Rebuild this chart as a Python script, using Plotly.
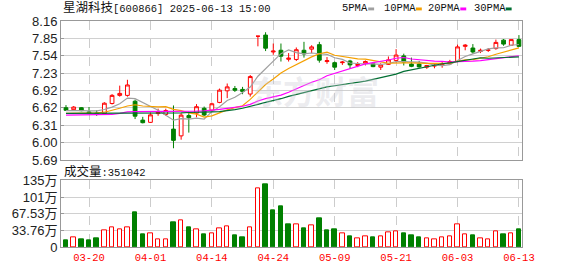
import plotly.graph_objects as go

# ---------------- data ----------------
dates = ["03-17", "03-18", "03-19", "03-20", "03-21", "03-24", "03-25", "03-26", "03-27", "03-28",
         "03-31", "04-01", "04-02", "04-03", "04-07", "04-08", "04-09", "04-10", "04-11", "04-14",
         "04-15", "04-16", "04-17", "04-18", "04-21", "04-22", "04-23", "04-24", "04-25", "04-28",
         "04-29", "04-30", "05-06", "05-07", "05-08", "05-09", "05-12", "05-13", "05-14", "05-15",
         "05-16", "05-19", "05-20", "05-21", "05-22", "05-23", "05-26", "05-27", "05-28", "05-29",
         "05-30", "06-03", "06-04", "06-05", "06-06", "06-09", "06-10", "06-11", "06-12", "06-13"]

open_ = [6.62, 6.585, 6.62, 6.545, 6.525, 6.516, 6.695, 6.839, 6.839, 6.735,
         6.40, 6.36, 6.516, 6.50, 6.24, 6.12, 6.48, 6.523, 6.61, 6.576,
         6.714, 6.92, 6.96, 6.945, 6.863, 7.89, 7.91, 7.61, 7.64, 7.48,
         7.477, 7.64, 7.66, 7.74, 7.44, 7.42, 7.42, 7.45, 7.37, 7.41,
         7.40, 7.34, 7.39, 7.46, 7.54, 7.395, 7.395, 7.34, 7.36, 7.38,
         7.40, 7.44, 7.71, 7.68, 7.62, 7.64, 7.67, 7.82, 7.73, 7.83]
high = [6.666, 6.649, 6.631, 6.631, 6.574, 6.718, 6.862, 7.012, 7.116, 6.764,
        6.458, 6.533, 6.603, 6.603, 6.66, 6.523, 6.55, 6.684, 6.64, 6.71,
        6.96, 7.05, 7.006, 6.99, 7.20, 7.89, 7.96, 7.76, 7.76, 7.59,
        7.69, 7.79, 7.73, 7.79, 7.52, 7.44, 7.45, 7.47, 7.43, 7.46,
        7.43, 7.41, 7.53, 7.66, 7.58, 7.51, 7.45, 7.38, 7.41, 7.43,
        7.47, 7.74, 7.75, 7.75, 7.67, 7.68, 7.83, 7.84, 7.83, 7.91]
low = [6.565, 6.574, 6.557, 6.516, 6.476, 6.505, 6.677, 6.816, 6.816, 6.418,
       6.342, 6.348, 6.476, 6.476, 5.90, 6.052, 6.178, 6.45, 6.47, 6.56,
       6.70, 6.79, 6.90, 6.86, 6.817, 7.71, 7.626, 7.56, 7.44, 7.44,
       7.45, 7.51, 7.59, 7.42, 7.40, 7.29, 7.38, 7.31, 7.34, 7.37,
       7.34, 7.29, 7.38, 7.42, 7.37, 7.34, 7.33, 7.31, 7.32, 7.33,
       7.39, 7.43, 7.64, 7.58, 7.59, 7.61, 7.65, 7.72, 7.73, 7.70]
close = [6.574, 6.631, 6.568, 6.528, 6.515, 6.70, 6.839, 6.874, 7.024, 6.47,
         6.354, 6.493, 6.539, 6.57, 6.04, 6.488, 6.442, 6.638, 6.49, 6.69,
         6.932, 6.99, 6.93, 6.91, 7.173, 7.89, 7.677, 7.625, 7.535, 7.50,
         7.65, 7.575, 7.70, 7.465, 7.455, 7.34, 7.43, 7.38, 7.39, 7.44,
         7.35, 7.38, 7.47, 7.555, 7.43, 7.355, 7.345, 7.37, 7.375, 7.40,
         7.44, 7.70, 7.73, 7.61, 7.64, 7.645, 7.78, 7.75, 7.83, 7.71]

# volume in 万 (10k)
volume_wan = [14.4, 19.7, 16.4, 12.5, 18.4, 33.4, 39.3, 35.4, 39.3, 69.5,
              24.9, 27.5, 15.7, 15.7, 49.8, 53.1, 40.0, 35.4, 26.2, 27.5,
              38.0, 41.3, 24.3, 20.3, 40.0, 119.5, 126.6, 74.0, 83.1, 46.5,
              45.6, 38.5, 43.4, 58.0, 34.6, 36.5, 28.4, 22.3, 17.7, 21.6,
              20.3, 21.6, 29.5, 31.5, 28.2, 24.3, 20.3, 17.7, 15.7, 19.7,
              21.6, 45.2, 26.2, 24.3, 17.7, 15.7, 31.5, 26.2, 28.2, 35.1042]

# moving-average values before enough in-window closes exist
ma5_lead = [6.57, 6.575, 6.57, 6.565]
ma10_lead = [6.52, 6.52, 6.525, 6.525, 6.53, 6.54, 6.57, 6.61, 6.65]
ma20_lead = [6.49, 6.49, 6.49, 6.49, 6.495, 6.495, 6.50, 6.52, 6.545, 6.55,
             6.55, 6.55, 6.55, 6.55, 6.55, 6.555, 6.555, 6.56, 6.565]
ma30_lead = [6.52, 6.52, 6.52, 6.52, 6.52, 6.52, 6.525, 6.525, 6.53, 6.53,
             6.53, 6.53, 6.53, 6.53, 6.53, 6.53, 6.535, 6.535, 6.54, 6.545,
             6.55, 6.565, 6.585, 6.61, 6.64, 6.68, 6.715, 6.745, 6.78]

price_ticktext = ["5.69", "6.00", "6.31", "6.62", "6.92", "7.23", "7.54", "7.85", "8.16"]
price_min, price_max = 5.69, 8.16
vol_tickvals_wan = [0, 33.76, 67.53, 101.29, 135.05]
vol_ticktext = ["0", "33.76万", "67.53万", "101万", "135万"]
date_ticks = ["03-20", "04-01", "04-14", "04-24", "05-09", "05-21", "06-03", "06-13"]

title_text = "星湖科技[600866] 2025-06-13 15:00"
vol_label = "成交量:351042"
ma_names = ["5PMA", "10PMA", "20PMA", "30PMA"]
ma_colors = ["#a0a0a0", "#f5a000", "#ff00ff", "#006e32"]

# ---------------- derived ----------------
def moving_avg(vals, n, lead):
    out = list(lead)
    for i in range(len(lead), len(vals)):
        out.append(sum(vals[i - n + 1:i + 1]) / n)
    return out

mas = [moving_avg(close, 5, ma5_lead), moving_avg(close, 10, ma10_lead),
       moving_avg(close, 20, ma20_lead), moving_avg(close, 30, ma30_lead)]

RED = "#ff0000"
GREEN = "#008000"
vol_up = []
for i in range(len(close)):
    prev = close[i - 1] if i > 0 else open_[i]
    vol_up.append(close[i] >= prev)
vol_fill = ["white" if u else GREEN for u in vol_up]
vol_line = [RED if u else GREEN for u in vol_up]
volume = [v * 10000 for v in volume_wan]

W, H = 578, 276
ML, MR, MT, MB = 55, 56, 21, 21
PW, PH = W - ML - MR, H - MT - MB

def px(x):
    return (x - ML) / PW

def py(y):
    return (H - MB - y) / PH

fig = go.Figure()
fig.add_trace(go.Candlestick(
    x=dates, open=open_, high=high, low=low, close=close,
    increasing=dict(line=dict(color=RED, width=1), fillcolor="white"),
    decreasing=dict(line=dict(color=GREEN, width=1), fillcolor=GREEN),
    whiskerwidth=0, xaxis="x", yaxis="y", showlegend=False, hoverinfo="skip"))
for name, col, ma in zip(ma_names, ma_colors, mas):
    fig.add_trace(go.Scatter(x=dates, y=ma, mode="lines", name=name,
                             line=dict(color=col, width=1.2),
                             xaxis="x", yaxis="y", showlegend=False, hoverinfo="skip"))
fig.add_trace(go.Bar(x=dates, y=volume, width=0.58,
                     marker=dict(color=vol_fill, line=dict(color=vol_line, width=1)),
                     xaxis="x2", yaxis="y2", showlegend=False, hoverinfo="skip"))

frame = dict(showline=True, linecolor="#999999", linewidth=1, mirror=True)
xrange = [-0.65, len(dates) - 1 + 0.4]
fig.update_layout(
    width=W, height=H, margin=dict(l=ML, r=MR, t=MT, b=MB),
    paper_bgcolor="white", plot_bgcolor="white",
    bargap=0,
    xaxis=dict(type="category", range=xrange, domain=[0, 1], anchor="y",
               tickvals=date_ticks, showticklabels=False, ticks="",
               showgrid=True, gridcolor="#cccccc", griddash="dash", gridwidth=1,
               rangeslider=dict(visible=False), **frame),
    xaxis2=dict(type="category", range=xrange, domain=[0, 1], anchor="y2", matches="x",
                tickvals=date_ticks, ticktext=date_ticks, ticks="",
                tickfont=dict(family="Liberation Mono, DejaVu Sans Mono, monospace", size=10.5, color=RED),
                showgrid=True, gridcolor="#cccccc", griddash="dash", gridwidth=1, **frame),
    yaxis=dict(domain=[py(165), 1], range=[price_min, price_max], anchor="x",
               tickvals=[price_min + k * (price_max - price_min) / 8 for k in range(9)],
               ticktext=price_ticktext, ticks="inside", ticklen=3, tickcolor="#999999",
               tickfont=dict(family="Liberation Sans, Arial, sans-serif", size=13, color="#222222"),
               showgrid=True, gridcolor="#d0d0d0", gridwidth=1, zeroline=False, **frame),
    yaxis2=dict(domain=[0, py(186)], range=[0, vol_tickvals_wan[-1] * 10000], anchor="x2",
                tickvals=[v * 10000 for v in vol_tickvals_wan], ticktext=vol_ticktext,
                ticks="inside", ticklen=3, tickcolor="#999999",
                tickfont=dict(family="Liberation Sans, Arial, Noto Sans CJK SC, sans-serif", size=13, color="#222222"),
                showgrid=True, gridcolor="#d0d0d0", gridwidth=1, zeroline=False, **frame),
)

mono = "Liberation Mono, Noto Sans CJK SC, monospace"
# title
fig.add_annotation(xref="paper", yref="paper", x=px(55), y=py(8), xanchor="left", yanchor="middle",
                   showarrow=False,
                   text='<span style="font-size:12.5px">星湖科技</span>' + title_text[4:],
                   font=dict(family=mono, size=10.5, color="#111111"))
# volume label
fig.add_annotation(xref="paper", yref="paper", x=px(56), y=py(177.5), xanchor="left", yanchor="middle",
                   showarrow=False,
                   text='<span style="font-size:12.5px">成交量</span>' + vol_label[3:],
                   font=dict(family=mono, size=10.5, color="#111111"))
# legend
leg_x = [338, 380, 425, 471]
for name, col, lx in zip(ma_names, ma_colors, leg_x):
    fig.add_annotation(xref="paper", yref="paper", x=px(lx), y=py(8), xanchor="left", yanchor="middle",
                       showarrow=False, text=name, font=dict(family=mono, size=10.5, color="#111111"))
    sx = lx + len(name) * 6.3 + 3
    fig.add_shape(type="rect", xref="paper", yref="paper", x0=px(sx), x1=px(sx + 6),
                  y0=py(10), y1=py(7), fillcolor=col, line=dict(width=0))
# watermark
fig.add_annotation(xref="paper", yref="paper", x=px(312), y=py(92), xanchor="center", yanchor="middle",
                   showarrow=False, text="<b>东方财富</b>",
                   font=dict(family="Noto Sans CJK SC", size=32, color="rgba(200,200,210,0.35)"))

fig.write_html("out.html")
